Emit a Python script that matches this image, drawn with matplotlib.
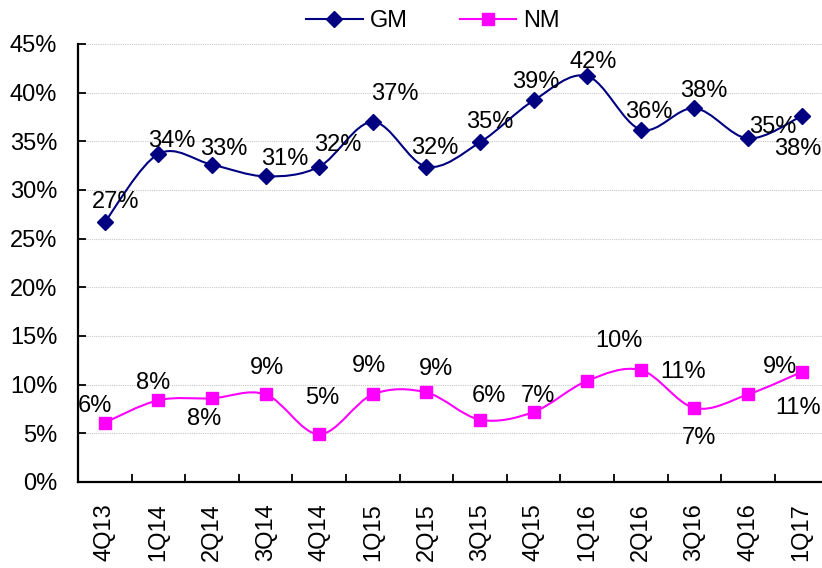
import numpy as np
import matplotlib
matplotlib.use("Agg")
import matplotlib.pyplot as plt
from matplotlib.path import Path
from matplotlib.patches import PathPatch
from matplotlib.lines import Line2D

plt.rcParams["font.family"] = ["Liberation Sans", "DejaVu Sans"]

quarters = ["4Q13", "1Q14", "2Q14", "3Q14", "4Q14", "1Q15", "2Q15",
            "3Q15", "4Q15", "1Q16", "2Q16", "3Q16", "4Q16", "1Q17"]
gm = [26.7, 33.7, 32.6, 31.4, 32.4, 37.0, 32.4, 34.9, 39.2, 41.7, 36.2, 38.4, 35.3, 37.6]
nm = [6.1, 8.4, 8.6, 9.0, 4.9, 9.0, 9.2, 6.4, 7.2, 10.4, 11.5, 7.6, 9.0, 11.3]
gm_labels = ["27%", "34%", "33%", "31%", "32%", "37%", "32%",
             "35%", "39%", "42%", "36%", "38%", "35%", "38%"]
nm_labels = ["6%", "8%", "8%", "9%", "5%", "9%", "9%",
             "6%", "7%", "10%", "11%", "7%", "9%", "11%"]

# label offsets in pixels (dx right, dy up)
gm_off = [(11, 20), (13, 13), (12, 16), (19, 17), (19, 22), (22, 28), (8, 19),
          (10, 20), (2, 18), (6, 14), (8, 18), (9, 17), (25, 11), (-4, -33)]
nm_off = [(-10, 17), (-5, 17), (-8, -21), (1, 26), (3, 36), (-4, 28), (10, 23),
          (9, 24), (4, 16), (32, 40), (42, -2), (4, -30), (32, 27), (-4, -36)]

GM_C = "#000080"
NM_C = "#FF00FF"
FS = 17


def smooth_path(xs, ys):
    # bezier segments like a spreadsheet "smoothed line"
    pts = np.column_stack([xs, ys]).astype(float)
    n = len(pts)
    verts = [pts[0]]
    codes = [Path.MOVETO]
    for i in range(n - 1):
        p0 = pts[i - 1] if i > 0 else pts[i]
        p1 = pts[i]
        p2 = pts[i + 1]
        p3 = pts[i + 2] if i + 2 < n else pts[i + 1]
        c1 = p1 + (p2 - p0) / 6.0
        c2 = p2 - (p3 - p1) / 6.0
        verts += [c1, c2, p2]
        codes += [Path.CURVE4] * 3
    return Path(verts, codes)


fig = plt.figure(figsize=(8.22, 5.68), dpi=100)
ax = fig.add_axes([78 / 822, 1 - 482 / 568, (828.5 - 78) / 822, (482 - 44) / 568])

x = np.arange(len(quarters))
for vals, col, mk, ms in [(gm, GM_C, "D", 8), (nm, NM_C, "s", 8.5)]:
    ax.add_patch(PathPatch(smooth_path(x, vals), facecolor="none",
                           edgecolor=col, lw=1.5, zorder=3))
    ax.plot(x, vals, ls="none", marker=mk, ms=ms, color=col, zorder=4)

for xi, v, t, o in zip(x, gm, gm_labels, gm_off):
    ax.annotate(t, (xi, v), xytext=o, textcoords="offset pixels",
                ha="center", va="center", fontsize=FS, zorder=5)
for xi, v, t, o in zip(x, nm, nm_labels, nm_off):
    ax.annotate(t, (xi, v), xytext=o, textcoords="offset pixels",
                ha="center", va="center", fontsize=FS, zorder=5)

ax.set_xlim(-0.5, len(quarters) - 0.5)
ax.set_ylim(0, 45)
ax.set_yticks(np.arange(0, 46, 5))
ax.set_yticklabels([f"{v}%" for v in range(0, 46, 5)], fontsize=FS)
ax.set_xticks(x)
ax.set_xticklabels(quarters, rotation=90, fontsize=FS)
ax.set_xticks(np.arange(0.5, len(quarters) - 0.5, 1), minor=True)
ax.tick_params(axis="x", which="major", length=0, pad=15)
ax.tick_params(axis="x", which="minor", direction="in", length=6, width=1.3)
ax.tick_params(axis="y", direction="in", length=6, width=1.3, pad=15)

ax.grid(axis="y", color="#c8c8c8", ls=(0, (1, 1)), lw=0.8)
ax.set_axisbelow(True)
for s in ["top", "right"]:
    ax.spines[s].set_visible(False)
for s in ["left", "bottom"]:
    ax.spines[s].set_linewidth(1.6)

handles = [Line2D([], [], color=GM_C, marker="D", ms=8, lw=1.5),
           Line2D([], [], color=NM_C, marker="s", ms=8.5, lw=1.5)]
fig.legend(handles, ["GM", "NM"], loc="center", bbox_to_anchor=(433 / 822, 1 - 21 / 568),
           ncol=2, frameon=False, fontsize=FS, handlelength=2.4,
           columnspacing=2.2, handletextpad=0.3)

fig.savefig("out.png", dpi=100)
